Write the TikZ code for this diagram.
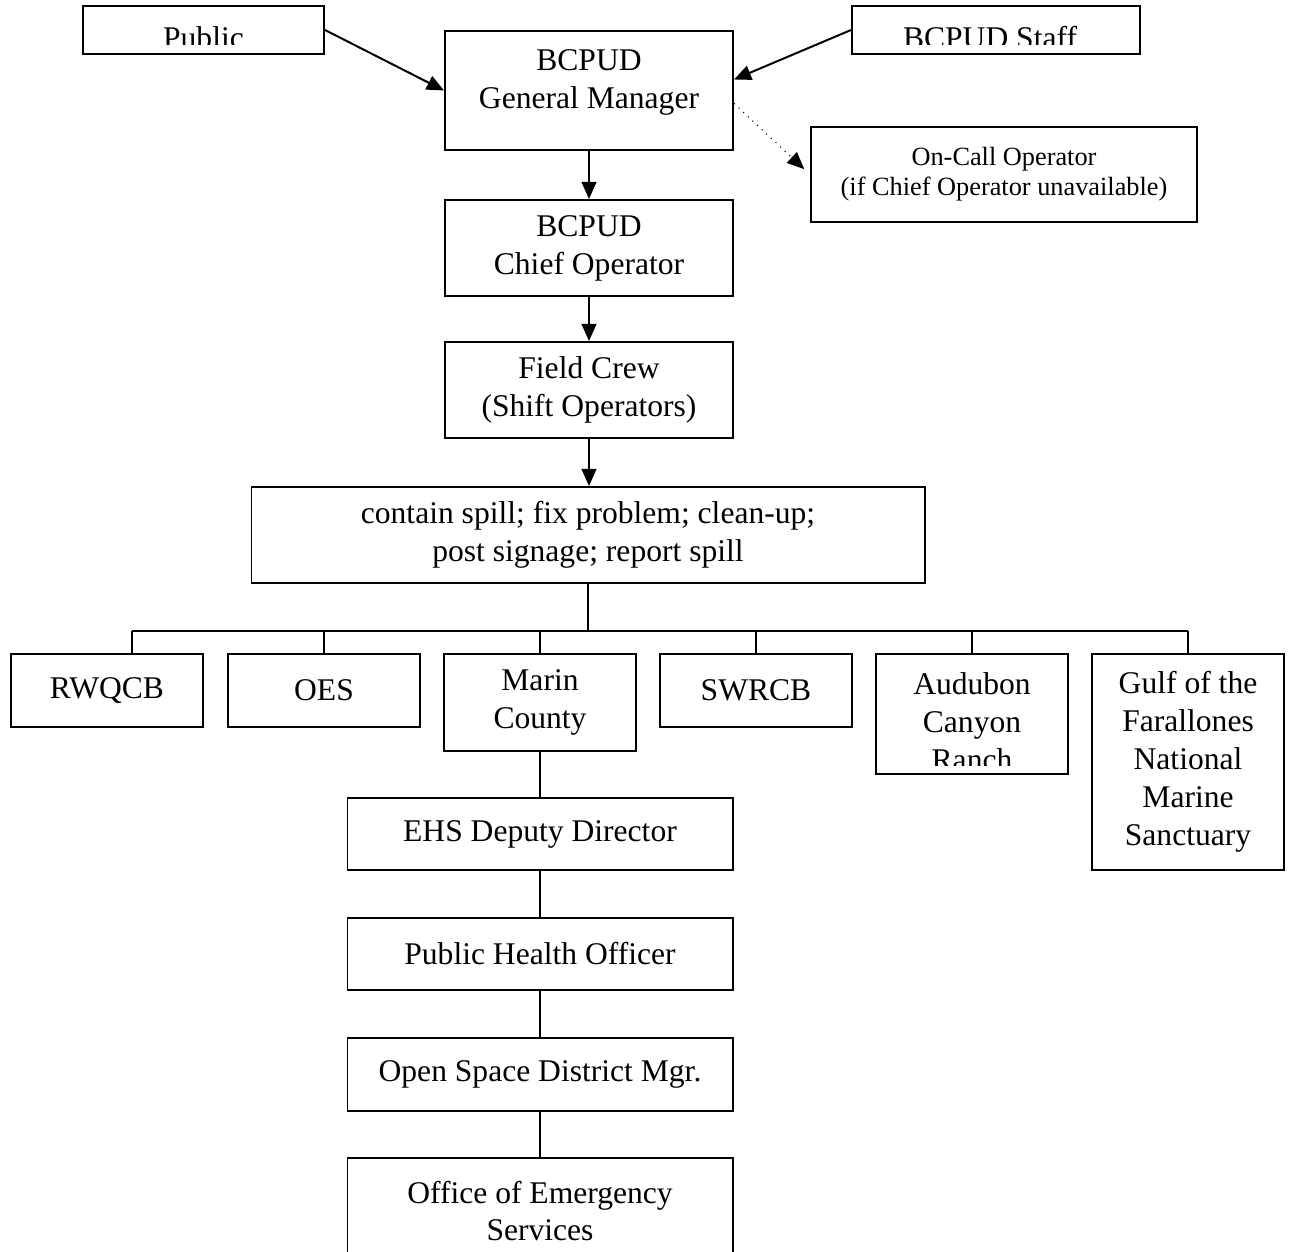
\documentclass[tikz,border=0pt]{standalone}
\usepackage{fontspec}
\setmainfont{Liberation Serif}
\usetikzlibrary{arrows.meta,calc}

\newcommand{\pxl}{0.38pt}
\tikzset{every picture/.style={line width=0.75pt}}
\tikzset{
  txt/.style={inner sep=0pt, align=center, font=\fontsize{12}{14.4}\selectfont},
  box/.style 2 args={txt, draw, minimum width=#1*\pxl, minimum height=#2*\pxl},
  small/.style={font=\fontsize{10}{11.5}\selectfont},
  arr/.style={-{Triangle[length=6.5pt,width=5.6pt]}},
}

\begin{document}
\begin{tikzpicture}[x=0.38pt,y=0.38pt,yscale=-1,xscale=1]
\clip (0,0) rectangle (1290,1251);

%Shape: top boxes
\node[box={241}{48}] (pub) at (203.5,30) {};
\node[box={288}{48}] (staff) at (996,30) {};
\node[box={288}{119}] (gm) at (589,90.5) {BCPUD\\General Manager\\[-6pt]\mbox{}};
\node[box={386}{95},small] (oncall) at (1004,174.5) {On-Call Operator\\(if Chief Operator unavailable)};
\node[box={288}{96}] (chief) at (589,248) {BCPUD\\Chief Operator};
\node[box={288}{96}] (field) at (589,390) {Field Crew\\(Shift Operators)};
\node[box={673}{96}] (spill) at (588,535) {contain spill; fix problem; clean-up;\\post signage; report spill};

%Shape: agency row
\node[box={192}{73}] (rwq) at (107,690.5) {RWQCB};
\node[box={192}{73}] (oes) at (324,690.5) {OES};
\node[box={192}{97}] (marin) at (540,702.5) {Marin\\County};
\node[box={192}{73}] (swr) at (756,690.5) {SWRCB};
\node[box={192}{120}] (aud) at (972,714) {};
\node[box={192}{216}] (gulf) at (1188,762) {Gulf of the\\Farallones\\National\\Marine\\Sanctuary};

%Shape: county chain
\node[box={385}{72}] (ehs) at (540,834) {EHS Deputy Director};
\node[box={385}{72}] (pho) at (540,954) {Public Health Officer};
\node[box={385}{73}] (osd) at (540,1074.5) {Open Space District Mgr.};
\node[box={385}{106}] (oem) at (540,1211) {Office of Emergency\\Services};

% Text Node (cut off at the box margin)
\begin{scope}
\clip (pub.north west) rectangle ($(pub.south east)+(0,-10)$);
\node[txt,anchor=base] (pubtext) at ($(pub.south)+(0,-6)$) {Public};
\end{scope}
\begin{scope}
\clip (staff.north west) rectangle ($(staff.south east)+(0,-10)$);
\node[txt,anchor=base] (stafftext) at ($(staff.south)+(-6,-6)$) {BCPUD Staff};
\end{scope}
\begin{scope}
\clip (aud.north west) rectangle ($(aud.south east)+(0,-10)$);
\node[txt] (audtext) at ($(aud.center)+(0,8)$) {Audubon\\Canyon\\Ranch};
\end{scope}

%Straight Lines: arrows
\draw[arr] (pub.east) -- (gm.west);
\draw[arr] (staff.west) -- ($(gm.east)+(0,-11)$);
\draw[arr,dotted,line width=0.4pt,shorten >=3pt] ($(gm.east)+(0,13)$) -- (oncall.west);
\draw[arr] (gm) -- (chief);
\draw[arr] (chief) -- (field);
\draw[arr] (field.south) -- (field.south |- spill.north);

%Straight Lines: tree
\coordinate (busL) at (132,631);
\coordinate (busR) at (1188,631);
\draw (spill.south) -- (spill.south |- busL);
\draw (busL) -- (busR);
\draw (busL) -- (busL |- rwq.north);
\foreach \n in {oes,marin,swr,aud,gulf} \draw (\n.north |- busL) -- (\n.north);
\draw (marin) -- (ehs);
\draw (ehs) -- (pho);
\draw (pho) -- (osd);
\draw (osd) -- (oem);

\end{tikzpicture}
\end{document}
